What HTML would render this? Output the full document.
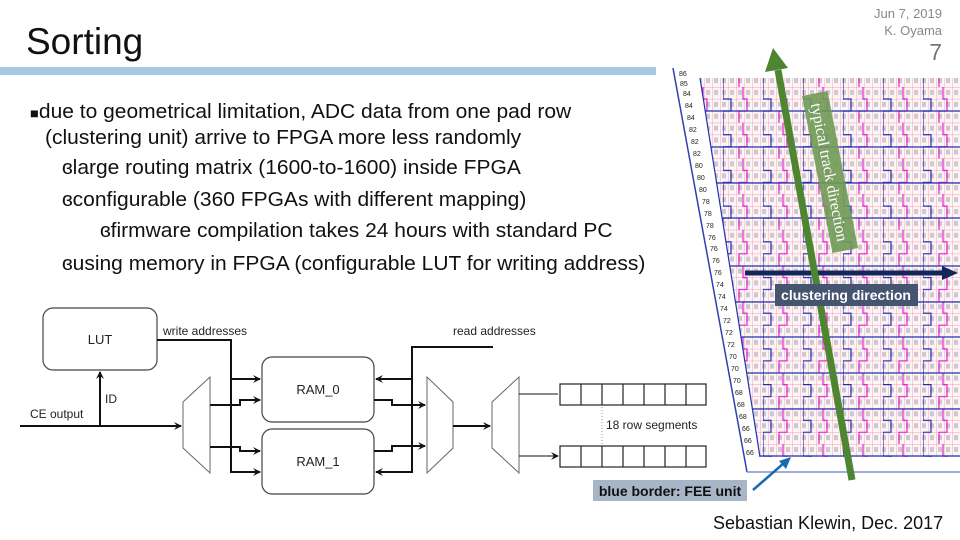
<!DOCTYPE html>
<html><head><meta charset="utf-8">
<style>
body{margin:0;width:960px;height:540px;overflow:hidden;background:#fff;font-family:"Liberation Sans",sans-serif;position:relative}
.t{position:absolute;white-space:nowrap}
.b{font-size:20px;color:#111;transform-origin:0 0;transform:scaleX(1.05)}
</style></head><body>
<div class="t" style="left:26px;top:21px;font-size:37px;color:#111">Sorting</div>
<div class="t" style="right:18px;top:5px;font-size:13px;color:#888;text-align:right;line-height:17px">Jun 7, 2019<br>K. Oyama</div>
<div class="t" style="right:18px;top:39px;font-size:23px;color:#777">7</div>
<div style="position:absolute;left:0;top:67px;width:656px;height:8px;background:#a9c8e6"></div>

<div class="t b" style="left:30px;top:101px"><span style="font-size:14px">■</span>due to geometrical limitation, ADC data from one pad row</div>
<div class="t b" style="left:45px;top:127px">(clustering unit) arrive to FPGA more less randomly</div>
<div class="t b" style="left:62px;top:157px">ɞlarge routing matrix (1600-to-1600) inside FPGA</div>
<div class="t b" style="left:62px;top:189px">ɞconfigurable (360 FPGAs with different mapping)</div>
<div class="t b" style="left:100px;top:220px">ɞfirmware compilation takes 24 hours with standard PC</div>
<div class="t b" style="left:62px;top:253px">ɞusing memory in FPGA (configurable LUT for writing address)</div>

<svg width="960" height="540" style="position:absolute;left:0;top:0" xmlns="http://www.w3.org/2000/svg">
<defs>
<marker id="ah" markerWidth="8" markerHeight="8" refX="7" refY="4" orient="auto" markerUnits="userSpaceOnUse"><path d="M0,0 L8,4 L0,8 L3,4z" fill="#111"/></marker>
<pattern id="cell" width="8" height="11.9" patternUnits="userSpaceOnUse" y="87">
<rect width="8" height="11.9" fill="#fdf4f6"/>
<path d="M0,0H8M0,0V11.9" stroke="#f08a9a" stroke-width="0.7"/>
<rect x="2" y="3" width="4" height="5" fill="#b0a8b8" opacity="0.6"/>
</pattern>
<pattern id="bl" width="40" height="35.7" patternUnits="userSpaceOnUse" x="3" y="87">
<path d="M0,0V12H8V24H0V36" stroke="#2030b0" fill="none" stroke-width="1.2"/>
<path d="M20,0V12H24V24H16V36" stroke="#e020d0" fill="none" stroke-width="1.2"/>
</pattern>
<clipPath id="cp"><polygon points="700,78 960,78 960,457 760,457"/></clipPath>
</defs>

<polygon points="673,68 960,68 960,472 747,472" fill="#fff"/>
<line x1="673" y1="68" x2="747" y2="472" stroke="#3040b0" stroke-width="1.5"/>
<line x1="747" y1="472" x2="960" y2="472" stroke="#8090d0" stroke-width="1.5"/>
<g clip-path="url(#cp)">
<rect x="690" y="68" width="270" height="400" fill="url(#cell)"/>
<rect x="690" y="68" width="270" height="400" fill="url(#bl)"/>
<path d="M690,111H960M690,147H960M690,183H960M690,218H960M690,266H960M690,302H960M690,337H960M690,373H960M690,409H960M690,456H960" stroke="#2030b0" stroke-width="1.2"/>
</g>
<line x1="700" y1="78" x2="760" y2="457" stroke="#2030b0" stroke-width="1.2"/>
<g font-size="7" fill="#222" font-family="Liberation Sans">
<text x="679" y="76">86</text><text x="680" y="86">85</text>
<text x="683" y="96">84</text><text x="685" y="108">84</text><text x="687" y="120">84</text>
<text x="689" y="132">82</text><text x="691" y="144">82</text><text x="693" y="156">82</text>
<text x="695" y="168">80</text><text x="697" y="180">80</text><text x="699" y="192">80</text>
<text x="702" y="204">78</text><text x="704" y="216">78</text><text x="706" y="228">78</text>
<text x="708" y="240">76</text><text x="710" y="251">76</text><text x="712" y="263">76</text><text x="714" y="275">76</text>
<text x="716" y="287">74</text><text x="718" y="299">74</text><text x="720" y="311">74</text>
<text x="723" y="323">72</text><text x="725" y="335">72</text><text x="727" y="347">72</text>
<text x="729" y="359">70</text><text x="731" y="371">70</text><text x="733" y="383">70</text>
<text x="735" y="395">68</text><text x="737" y="407">68</text><text x="739" y="419">68</text>
<text x="742" y="431">66</text><text x="744" y="443">66</text><text x="746" y="455">66</text>
</g>
<line x1="745" y1="273" x2="944" y2="273" stroke="#13285a" stroke-width="5"/>
<polygon points="942,266 958,273 942,280" fill="#13285a"/>
<g transform="translate(830,172) rotate(79)">
<rect x="-80" y="-13" width="160" height="26" fill="#6f9a55" opacity="0.9"/>
<text x="0" y="6" font-size="16" fill="#fff" text-anchor="middle" font-family="Liberation Serif">typical track direction</text>
</g>
<line x1="852" y1="480" x2="778" y2="70" stroke="#4e8530" stroke-width="7"/>
<polygon points="765,72 773,48 788,68" fill="#4e8530"/>
<rect x="775" y="284" width="143" height="22" fill="#45546f"/>
<text x="846" y="300" font-size="14" fill="#fff" text-anchor="middle" font-weight="bold" font-family="Liberation Sans">clustering direction</text>
<rect x="593" y="480" width="154" height="21" fill="#a8b5c7"/>
<text x="670" y="496" font-size="14" font-weight="bold" text-anchor="middle" font-family="Liberation Sans" fill="#111">blue border: FEE unit</text>
<line x1="753" y1="490" x2="784" y2="463" stroke="#1a6ab0" stroke-width="2.5"/>
<polygon points="779,461 791,457 786,469" fill="#1a6ab0"/>

<g stroke="#111" fill="none" stroke-width="2">
<rect x="43" y="308" width="114" height="62" rx="10" fill="#fff" stroke="#444" stroke-width="1.2"/>
<rect x="262" y="357" width="112" height="65" rx="10" fill="#fff" stroke="#444" stroke-width="1.2"/>
<rect x="262" y="429" width="112" height="65" rx="10" fill="#fff" stroke="#444" stroke-width="1.2"/>
<polygon points="183,402 210,377 210,473 183,448" fill="#fff" stroke="#666" stroke-width="1"/>
<polygon points="427,377 453,402 453,448 427,473" fill="#fff" stroke="#666" stroke-width="1"/>
<polygon points="492,402 519,377 519,473 492,448" fill="#fff" stroke="#666" stroke-width="1"/>
<path d="M20,426H181" marker-end="url(#ah)"/>
<path d="M100,426V372" marker-end="url(#ah)"/>
<path d="M157,340H231V472H260" marker-end="url(#ah)"/>
<path d="M231,379H260" marker-end="url(#ah)"/>
<path d="M210,405H240V400H260" marker-end="url(#ah)"/>
<path d="M210,447H240V451H260" marker-end="url(#ah)"/>
<path d="M374,400H392V405H425" marker-end="url(#ah)"/>
<path d="M374,451H392V446H425" marker-end="url(#ah)"/>
<path d="M493,347H412V472H376" marker-end="url(#ah)"/>
<path d="M412,379H376" marker-end="url(#ah)"/>
<path d="M453,426H490" marker-end="url(#ah)"/>
<path d="M519,394H558M519,456H558" stroke-width="1" marker-end="url(#ah)"/>
</g>
<g stroke="#222" fill="#fff" stroke-width="1.2">
<rect x="560" y="384" width="146" height="21"/><rect x="560" y="446" width="146" height="21"/>
<path d="M581,384V405M602,384V405M623,384V405M644,384V405M665,384V405M686,384V405M581,446V467M602,446V467M623,446V467M644,446V467M665,446V467M686,446V467"/>
</g>
<line x1="602" y1="407" x2="602" y2="444" stroke="#999" stroke-dasharray="1,2"/>
<g font-family="Liberation Sans" fill="#222" font-size="12">
<text x="100" y="344" text-anchor="middle" font-size="13">LUT</text>
<text x="318" y="394" text-anchor="middle" font-size="13">RAM_0</text>
<text x="318" y="466" text-anchor="middle" font-size="13">RAM_1</text>
<text x="163" y="335">write addresses</text>
<text x="453" y="335">read addresses</text>
<text x="105" y="403">ID</text>
<text x="30" y="418">CE output</text>
<text x="606" y="429">18 row segments</text>
</g>
</svg>
<div class="t" style="left:713px;top:513px;font-size:18px;color:#111">Sebastian Klewin, Dec. 2017</div>
</body></html>
